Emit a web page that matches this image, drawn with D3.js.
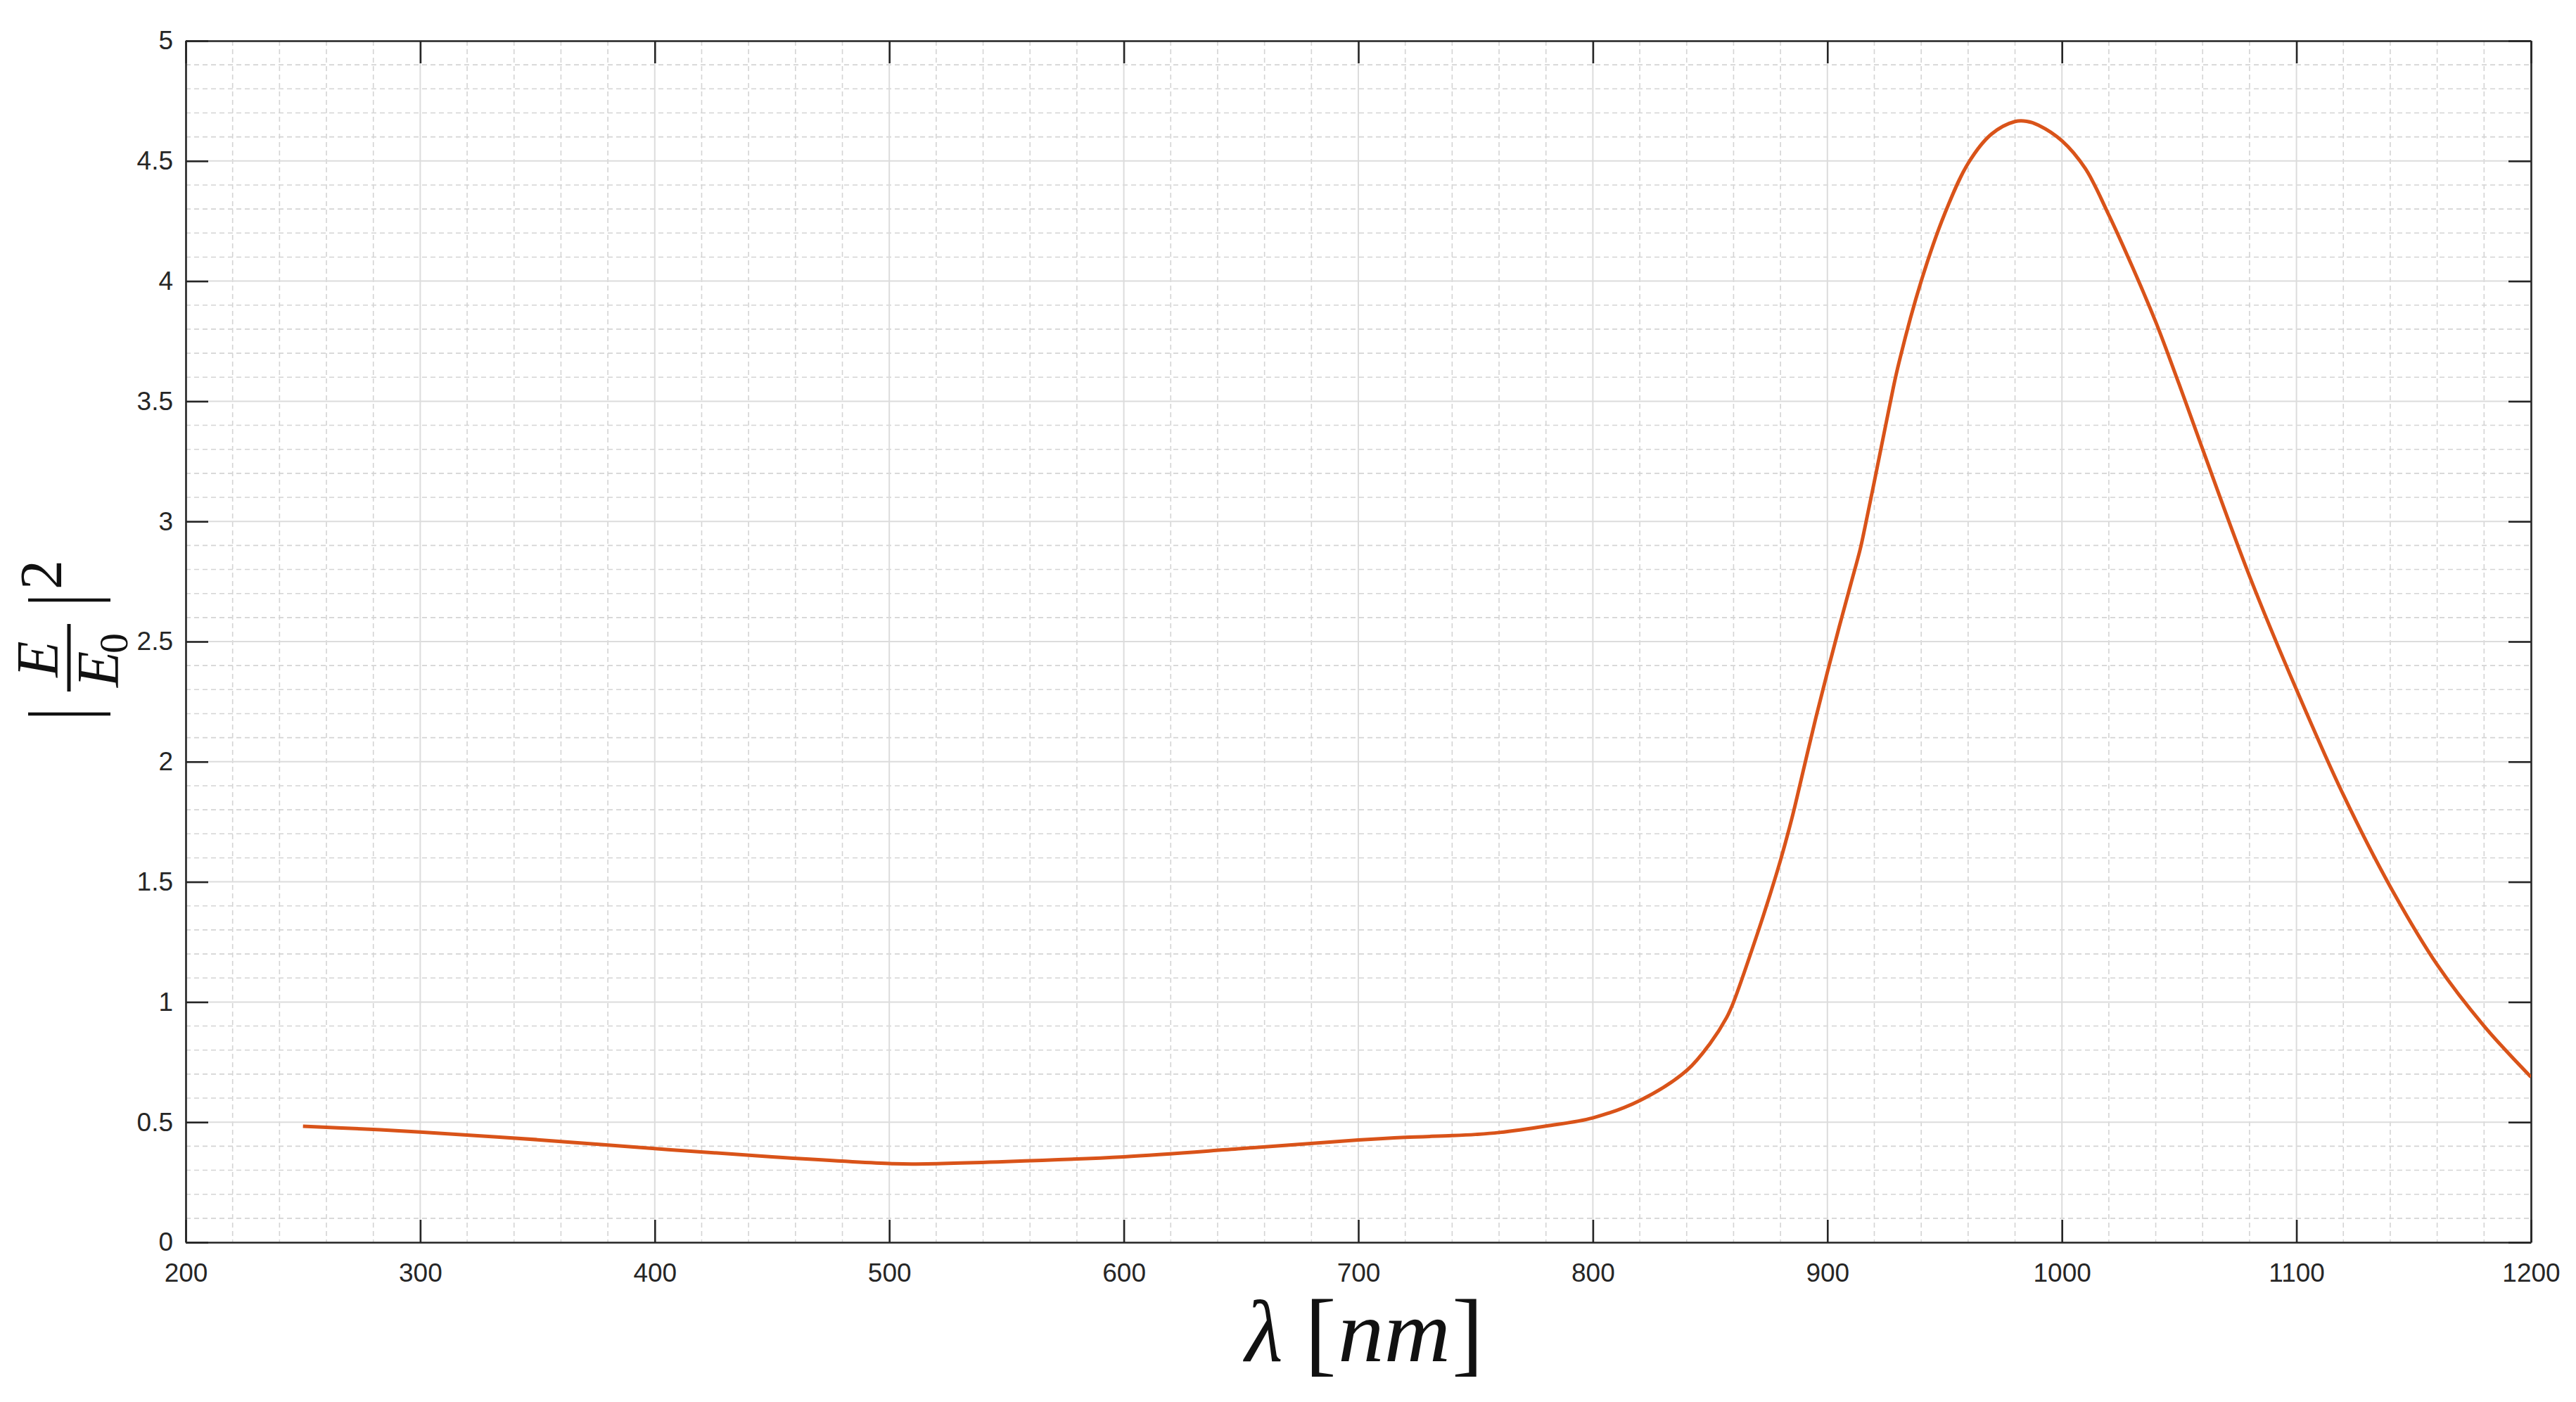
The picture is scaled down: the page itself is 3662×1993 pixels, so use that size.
<!DOCTYPE html>
<html>
<head>
<meta charset="utf-8">
<script src="https://cdn.jsdelivr.net/npm/d3@7"></script>
<style>
  body { margin: 0; background: #fff; }
</style>
</head>
<body>
<div id="chart"></div>
<script>
// ----------------------------------------------- //
// Data
var wavelength = [250, 275, 300, 350, 400, 450, 500, 510, 550, 600, 650, 700, 720, 740, 750,
    760, 780, 800, 820, 840, 850, 857, 860, 870, 875, 880, 885, 890, 895, 900, 905,
    910, 914, 916, 920, 926.5, 930, 940, 950, 960, 970, 980, 985, 990, 1000, 1010, 1020,
    1030, 1040, 1050, 1060, 1080, 1100, 1120, 1140, 1160, 1180, 1200];
var fieldEnh = [0.483, 0.472, 0.459, 0.427, 0.390, 0.356, 0.328, 0.326, 0.336, 0.356, 0.390,
    0.426, 0.437, 0.444, 0.449, 0.457, 0.484, 0.518, 0.590, 0.715, 0.828, 0.935, 1.000,
    1.280, 1.430, 1.590, 1.770, 1.975, 2.180, 2.373, 2.560, 2.740, 2.885, 2.975, 3.165,
    3.480, 3.640, 4.000, 4.280, 4.490, 4.612, 4.664, 4.665, 4.649, 4.584, 4.468, 4.275,
    4.060, 3.830, 3.570, 3.300, 2.772, 2.300, 1.862, 1.480, 1.155, 0.900, 0.688];

var xTicks = [200, 300, 400, 500, 600, 700, 800, 900, 1000, 1100, 1200];
var yTicks = [0, 0.5, 1, 1.5, 2, 2.5, 3, 3.5, 4, 4.5, 5];
var yTickLabels = ["0", "0.5", "1", "1.5", "2", "2.5", "3", "3.5", "4", "4.5", "5"];
var xMinorStep = 20;
var yMinorStep = 0.1;

// ----------------------------------------------- //
// Sizes
var svgWidth = 3662;
var svgHeight = 1993;
var margin = { top: 58, right: 64, bottom: 227, left: 264 };
var width = svgWidth - margin.left - margin.right;
var height = svgHeight - margin.top - margin.bottom;

var axisColor = "#262626";
var lineColor = "#D95319";

var svg = d3.select("#chart")
    .append("svg")
    .attr("width", svgWidth)
    .attr("height", svgHeight)
    .style("background", "#fff");

var chartGroup = svg.append("g")
    .attr("transform", `translate(${margin.left}, ${margin.top})`);

// Scales
var xScale = d3.scaleLinear().domain([200, 1200]).range([0, width]);
var yScale = d3.scaleLinear().domain([0, 5]).range([height, 0]);

// ----------------------------------------------- //
// Minor grid (dashed)
var xMinor = d3.range(200, 1200 + 0.001, xMinorStep).filter(d => d % 100 !== 0);
var yMinor = d3.range(0, 5.0001, yMinorStep).map(d => +d.toFixed(2))
    .filter(d => Math.abs(d * 2 - Math.round(d * 2)) > 1e-6);

var gridGroup = chartGroup.append("g");
gridGroup.selectAll(".xminor")
    .data(xMinor)
    .enter()
    .append("line")
    .attr("x1", d => xScale(d)).attr("x2", d => xScale(d))
    .attr("y1", 0).attr("y2", height)
    .attr("stroke", "#d4d4d4")
    .attr("stroke-width", 1.6)
    .attr("stroke-dasharray", "7,5");
gridGroup.selectAll(".yminor")
    .data(yMinor)
    .enter()
    .append("line")
    .attr("x1", 0).attr("x2", width)
    .attr("y1", d => yScale(d)).attr("y2", d => yScale(d))
    .attr("stroke", "#d4d4d4")
    .attr("stroke-width", 1.6)
    .attr("stroke-dasharray", "7,5");

// Major grid (solid)
gridGroup.selectAll(".xmajor")
    .data(xTicks)
    .enter()
    .append("line")
    .attr("x1", d => xScale(d)).attr("x2", d => xScale(d))
    .attr("y1", 0).attr("y2", height)
    .attr("stroke", "#dcdcdc")
    .attr("stroke-width", 2);
gridGroup.selectAll(".ymajor")
    .data(yTicks)
    .enter()
    .append("line")
    .attr("x1", 0).attr("x2", width)
    .attr("y1", d => yScale(d)).attr("y2", d => yScale(d))
    .attr("stroke", "#dcdcdc")
    .attr("stroke-width", 2);

// ----------------------------------------------- //
// Axes (ticks inward, box on)
function styleAxis(g) {
    g.select(".domain").attr("stroke", axisColor).attr("stroke-width", 2.6);
    g.selectAll(".tick line").attr("stroke", axisColor).attr("stroke-width", 2.6);
    g.selectAll(".tick text")
        .attr("fill", axisColor)
        .style("font-family", "'Liberation Sans', Arial, sans-serif")
        .style("font-size", "37px");
}

var bottomAxis = d3.axisBottom(xScale).tickValues(xTicks)
    .tickSize(-32).tickSizeOuter(0).tickPadding(30).tickFormat(d3.format("d"));
var leftAxis = d3.axisLeft(yScale).tickValues(yTicks)
    .tickSize(-32).tickSizeOuter(0).tickPadding(18)
    .tickFormat((d, i) => yTickLabels[i]);
var topAxis = d3.axisTop(xScale).tickValues(xTicks)
    .tickSize(-32).tickSizeOuter(0).tickFormat("");
var rightAxis = d3.axisRight(yScale).tickValues(yTicks)
    .tickSize(-32).tickSizeOuter(0).tickFormat("");

chartGroup.append("g")
    .attr("transform", `translate(0, ${height})`)
    .call(bottomAxis)
    .call(styleAxis);
chartGroup.append("g")
    .call(leftAxis)
    .call(styleAxis);
chartGroup.append("g")
    .call(topAxis)
    .call(styleAxis);
chartGroup.append("g")
    .attr("transform", `translate(${width}, 0)`)
    .call(rightAxis)
    .call(styleAxis);

// ----------------------------------------------- //
// The curve
svg.append("defs").append("clipPath")
    .attr("id", "plotClip")
    .append("rect")
    .attr("x", 0).attr("y", 0)
    .attr("width", width).attr("height", height);

var lineGen = d3.line()
    .x((d, i) => xScale(wavelength[i]))
    .y(d => yScale(d))
    .curve(d3.curveCatmullRom.alpha(0.5));

chartGroup.append("path")
    .datum(fieldEnh)
    .attr("clip-path", "url(#plotClip)")
    .attr("d", lineGen)
    .attr("fill", "none")
    .attr("stroke", lineColor)
    .attr("stroke-width", 5)
    .attr("stroke-linejoin", "round");

// ----------------------------------------------- //
// X label: lambda [nm], one text with tspans
var serif = "'Liberation Serif', 'Times New Roman', serif";
var xLab = svg.append("text")
    .attr("y", 1935)
    .style("font-family", serif)
    .attr("fill", "#111");
xLab.append("tspan")
    .attr("x", 1770)
    .style("font-style", "italic").style("font-size", "124px")
    .text("λ");
xLab.append("tspan")
    .attr("x", 1855).attr("dy", 4)
    .style("font-size", "134px")
    .text("[");
xLab.append("tspan")
    .attr("x", 1902).attr("dy", -4)
    .attr("textLength", 160).attr("lengthAdjust", "spacingAndGlyphs")
    .style("font-style", "italic").style("font-size", "124px")
    .text("nm");
xLab.append("tspan")
    .attr("x", 2064).attr("dy", 4)
    .style("font-size", "134px")
    .text("]");

// ----------------------------------------------- //
// Y label: |E / E0|^2, rotated
var yLab = svg.append("g")
    .attr("transform", "translate(98, 935) rotate(-90)");
yLab.append("line")
    .attr("x1", -48).attr("x2", 48).attr("y1", 0).attr("y2", 0)
    .attr("stroke", "#111").attr("stroke-width", 5);
yLab.append("line")
    .attr("x1", -80).attr("x2", -80).attr("y1", -58).attr("y2", 59)
    .attr("stroke", "#111").attr("stroke-width", 4.5);
yLab.append("line")
    .attr("x1", 82).attr("x2", 82).attr("y1", -58).attr("y2", 59)
    .attr("stroke", "#111").attr("stroke-width", 4.5);
yLab.append("text")
    .attr("x", -2).attr("y", -16)
    .attr("text-anchor", "middle")
    .style("font-family", serif).style("font-style", "italic")
    .style("font-size", "84px").attr("fill", "#111")
    .text("E");
var denom = yLab.append("text")
    .attr("y", 70)
    .style("font-family", serif)
    .attr("fill", "#111");
denom.append("tspan")
    .attr("x", -42)
    .style("font-style", "italic").style("font-size", "84px")
    .text("E");
denom.append("tspan")
    .attr("x", 6).attr("dy", 13)
    .style("font-size", "58px")
    .text("0");
yLab.append("text")
    .attr("x", 97).attr("y", -11)
    .style("font-family", serif)
    .style("font-size", "84px").attr("fill", "#111")
    .text("2");
</script>
</body>
</html>
